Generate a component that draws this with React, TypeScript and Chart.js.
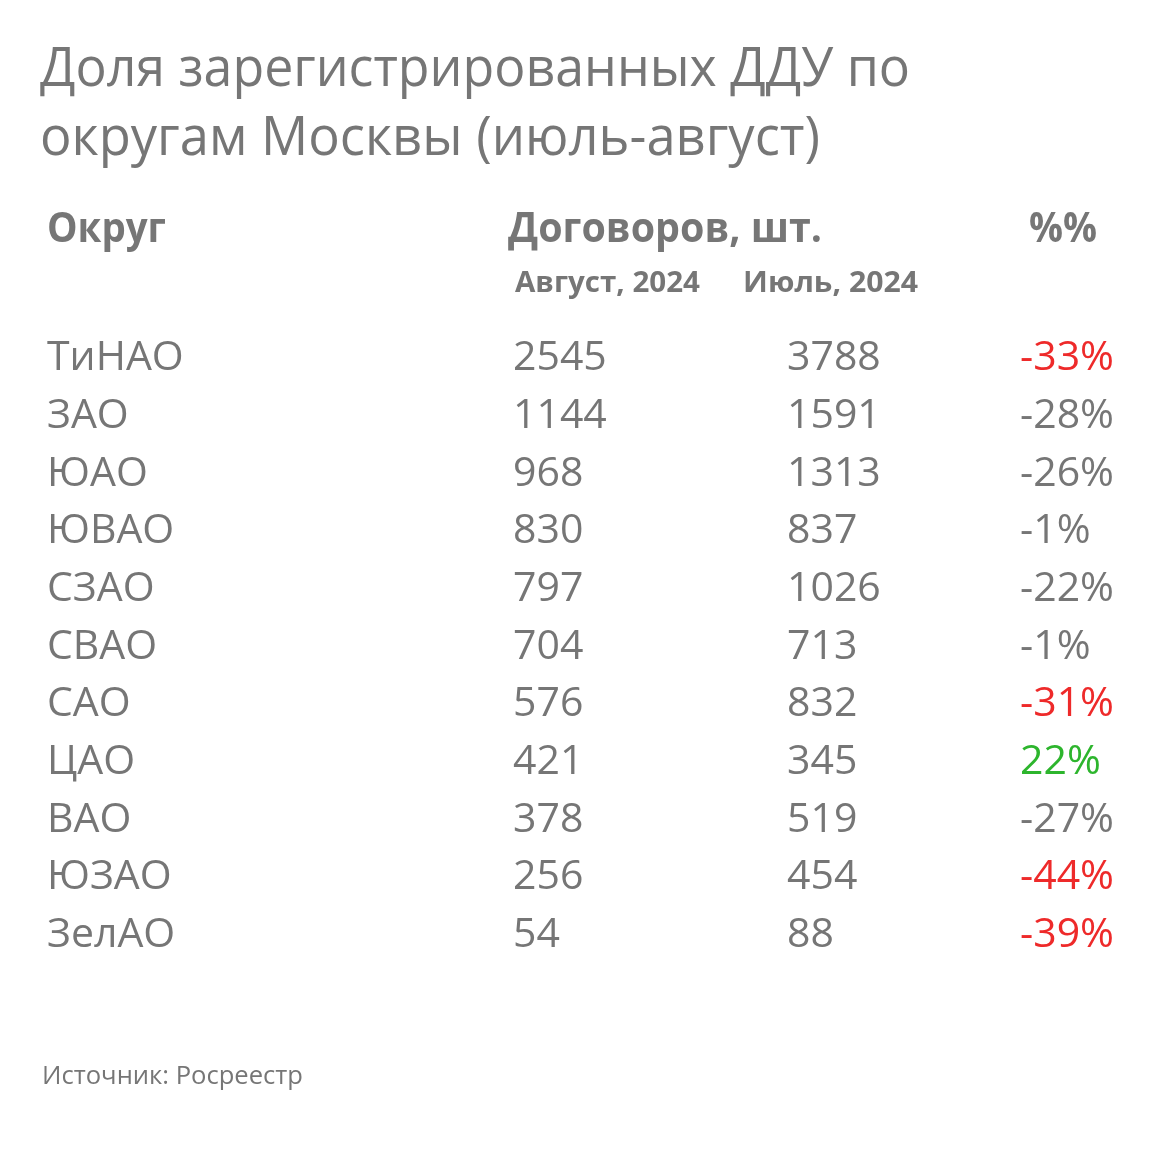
import React, { useEffect, useRef } from "react";
import { Chart, registerables } from "chart.js";

Chart.register(...registerables);

const TITLE_LINES = ["Доля зарегистрированных ДДУ по", "округам Москвы (июль-август)"];
const HEADER_DISTRICT = "Округ";
const HEADER_CONTRACTS = "Договоров, шт.";
const HEADER_PCT = "%%";
const SUBHEADERS = ["Август, 2024", "Июль, 2024"];
const SOURCE = "Источник: Росреестр";

const DISTRICTS = ["ТиНАО", "ЗАО", "ЮАО", "ЮВАО", "СЗАО", "СВАО", "САО", "ЦАО", "ВАО", "ЮЗАО", "ЗелАО"];
const AUGUST_2024 = [2545, 1144, 968, 830, 797, 704, 576, 421, 378, 256, 54];
const JULY_2024 = [3788, 1591, 1313, 837, 1026, 713, 832, 345, 519, 454, 88];
const CHANGE_PCT = [-33, -28, -26, -1, -22, -1, -31, 22, -27, -44, -39];

// layout (column anchors on the x scale, which spans the canvas width)
const COL_X = { name: 47, aug: 513, jul: 787, pct: 1020 };
const GRAY = "#767676";
const RED = "#ee2a2a";
const GREEN = "#2db52d";
const FONT = "'Open Sans', 'Noto Sans', sans-serif";

function fitText(ctx: CanvasRenderingContext2D, text: string, x: number, y: number, target?: number) {
  const w = ctx.measureText(text).width;
  if (!target || w <= 0) {
    ctx.fillText(text, x, y);
    return;
  }
  ctx.save();
  ctx.translate(x, y);
  ctx.scale(target / w, 1);
  ctx.fillText(text, 0, 0);
  ctx.restore();
}

const tablePlugin = {
  id: "tableText",
  afterDatasetsDraw(chart: any) {
    const ctx: CanvasRenderingContext2D = chart.ctx;
    const xs = chart.scales.x;
    const ys = chart.scales.y;
    ctx.save();
    ctx.textAlign = "left";
    ctx.textBaseline = "alphabetic";
    ctx.fillStyle = GRAY;

    // title
    ctx.font = `55px ${FONT}`;
    fitText(ctx, TITLE_LINES[0], 40, 86, 870);
    fitText(ctx, TITLE_LINES[1], 40, 155, 780);

    // headers
    ctx.font = `bold 41px ${FONT}`;
    fitText(ctx, HEADER_DISTRICT, xs.getPixelForValue(COL_X.name), 242, 119);
    fitText(ctx, HEADER_CONTRACTS, xs.getPixelForValue(COL_X.aug) - 5, 242, 314);
    fitText(ctx, HEADER_PCT, xs.getPixelForValue(COL_X.pct) + 9, 242, 68);
    ctx.font = `bold 28px ${FONT}`;
    fitText(ctx, SUBHEADERS[0], xs.getPixelForValue(COL_X.aug) + 2, 292, 185);
    fitText(ctx, SUBHEADERS[1], xs.getPixelForValue(COL_X.jul) - 44, 292, 175);

    // body
    const bodySize = 41;
    ctx.font = `${bodySize}px ${FONT}`;
    const capOffset = bodySize * 0.357;
    DISTRICTS.forEach((d, i) => {
      const y = ys.getPixelForValue(i) + capOffset;
      ctx.fillStyle = GRAY;
      ctx.fillText(d, xs.getPixelForValue(COL_X.name), y);
    });
    const texts = [
      AUGUST_2024.map((v) => String(v)),
      JULY_2024.map((v) => String(v)),
      CHANGE_PCT.map((v) => `${v}%`),
    ];
    chart.data.datasets.forEach((ds: any, di: number) => {
      const meta = chart.getDatasetMeta(di);
      meta.data.forEach((el: any, i: number) => {
        let color = GRAY;
        if (di === 2) {
          const v = CHANGE_PCT[i];
          if (v > 0) color = GREEN;
          else if (v <= -30) color = RED;
        }
        ctx.fillStyle = color;
        ctx.fillText(texts[di][i], el.x, el.y + capOffset);
      });
    });

    // source
    ctx.fillStyle = GRAY;
    ctx.font = `25px ${FONT}`;
    fitText(ctx, SOURCE, 42, 1084, 261);
    ctx.restore();
  },
};

export default function App() {
  const ref = useRef<HTMLCanvasElement | null>(null);
  useEffect(() => {
    document.body.style.margin = "0";
    if (!ref.current) return;
    const chart = new Chart(ref.current, {
      type: "scatter",
      data: {
        datasets: [
          { label: SUBHEADERS[0], data: AUGUST_2024.map((_, i) => ({ x: COL_X.aug, y: DISTRICTS[i] })), pointRadius: 0 },
          { label: SUBHEADERS[1], data: JULY_2024.map((_, i) => ({ x: COL_X.jul, y: DISTRICTS[i] })), pointRadius: 0 },
          { label: HEADER_PCT, data: CHANGE_PCT.map((_, i) => ({ x: COL_X.pct, y: DISTRICTS[i] })), pointRadius: 0 },
        ] as any,
      },
      plugins: [tablePlugin],
      options: {
        responsive: false,
        animation: false,
        events: [],
        layout: { padding: { left: 0, right: 0, top: 327, bottom: 196 } },
        plugins: { legend: { display: false }, tooltip: { enabled: false }, title: { display: false } },
        scales: {
          x: { type: "linear", min: 0, max: 1157, display: false },
          y: { type: "category", labels: DISTRICTS, offset: true, display: false },
        },
      },
    });
    return () => chart.destroy();
  }, []);
  return (
    <div style={{ width: 1157, height: 1157, background: "#fff" }}>
      <canvas ref={ref} width={1157} height={1157} style={{ display: "block" }} />
    </div>
  );
}
